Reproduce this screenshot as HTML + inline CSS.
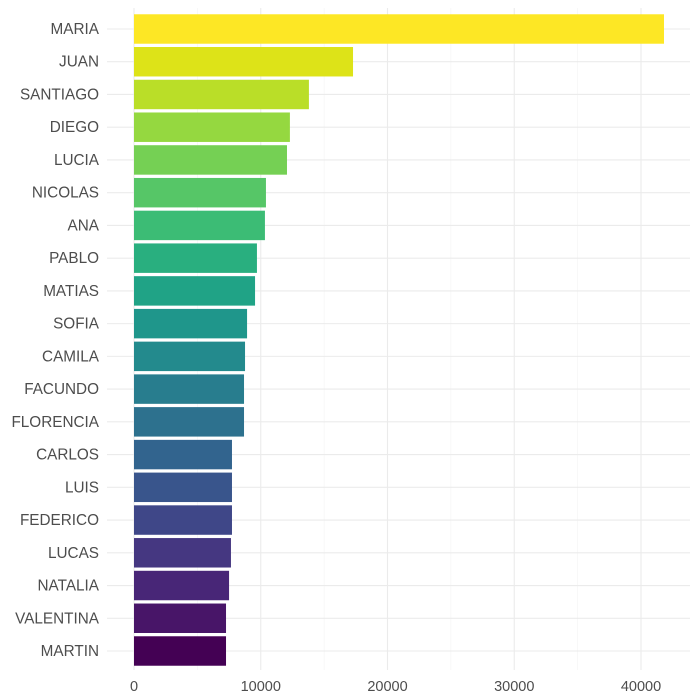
<!DOCTYPE html>
<html><head><meta charset="utf-8"><style>
body{margin:0;background:#fff}
svg{display:block;font-family:"Liberation Sans",sans-serif}
</style></head><body>
<svg id="chart" width="700" height="700"></svg>
<script>
const names=["MARIA","JUAN","SANTIAGO","DIEGO","LUCIA","NICOLAS","ANA","PABLO","MATIAS","SOFIA","CAMILA","FACUNDO","FLORENCIA","CARLOS","LUIS","FEDERICO","LUCAS","NATALIA","VALENTINA","MARTIN"];
const counts=[41814,17280,13800,12300,12070,10410,10330,9700,9550,8920,8760,8680,8680,7730,7730,7730,7650,7500,7260,7260];
const colors=["#FDE725","#DDE318","#BADE28","#95D840","#75D054","#56C667","#3CBC75","#29AF7F","#20A386","#1F968B","#238A8D","#287D8E","#2D718E","#32648E","#39558C","#3F4788","#453781","#482677","#481568","#440154"];
const xTicks=[0,10000,20000,30000,40000];
const minorTicks=[5000,15000,25000,35000];
const svg=document.getElementById('chart');
const NS='http://www.w3.org/2000/svg';
const x0=134,xScale=(641-134)/40000;
const X=v=>x0+v*xScale;
const top0=29,step=(651-29)/19;
const Y=i=>top0+i*step;
const plotL=107,plotR=690,plotT=8,plotB=670;
function mk(t,a){const e=document.createElementNS(NS,t);for(const k in a)e.setAttribute(k,a[k]);svg.appendChild(e);return e;}
minorTicks.forEach(v=>{
 const l=mk('line',{x1:X(v),x2:X(v),y1:plotT,y2:plotB,stroke:'#f2f2f2','stroke-width':0.6});
 
 
});
xTicks.forEach(v=>{
 const l=mk('line',{x1:X(v),x2:X(v),y1:plotT,y2:plotB,stroke:'#ebebeb','stroke-width':1.1});
 
 
 const t=mk('text',{x:X(v),y:691,'text-anchor':'middle','font-size':14.5,fill:'#4d4d4d'});
 t.textContent=v;
 
 
});
names.forEach((n,i)=>{
 const g=mk('line',{x1:plotL,x2:plotR,y1:Y(i),y2:Y(i),stroke:'#ebebeb','stroke-width':1.1});
 
 
});
names.forEach((n,i)=>{
 const bh=step*0.9;
 const r=mk('rect',{x:X(0),y:Y(i)-bh/2,width:X(counts[i])-X(0),height:bh,fill:colors[i]});
 
 
 const t=mk('text',{x:99,y:Y(i)+5,'text-anchor':'end','font-size':15.3,fill:'#4d4d4d'});
 t.textContent=n;
 
 
});
</script>
</body></html>
